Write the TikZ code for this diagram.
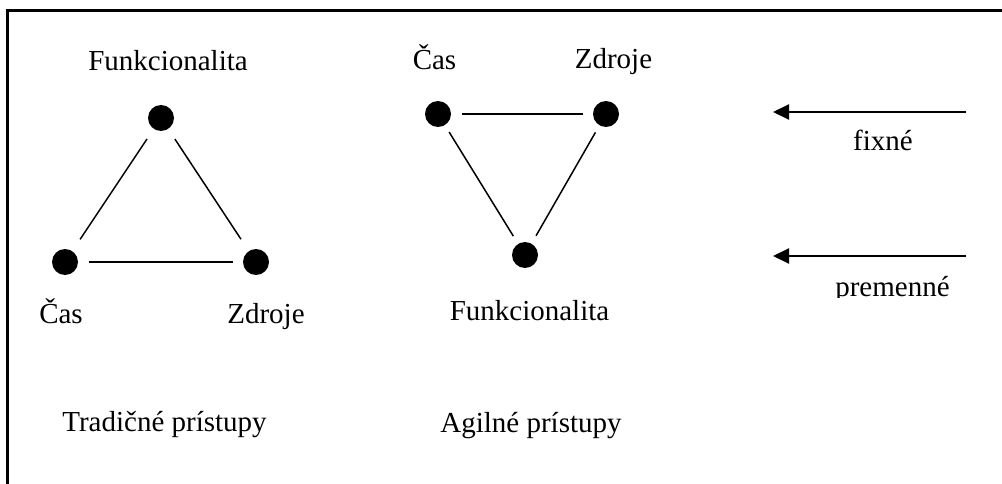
\documentclass[tikz,border=0pt]{standalone}
\usepackage{fontspec}
\setmainfont{Liberation Serif}
\usetikzlibrary{arrows.meta}
\begin{document}
\begin{tikzpicture}[x=1pt,y=-1pt,
  dot/.style={circle,fill=black,draw=none,minimum size=26pt,inner sep=0pt},
  lbl/.style={anchor=base,inner sep=0pt,font=\fontsize{29}{34}\selectfont},
  thin edge/.style={line width=1.5pt},
  thick edge/.style={line width=2.6pt},
  arr/.style={line width=2pt,-{Triangle[length=16pt,width=15pt]}}]
\useasboundingbox (0,0) rectangle (1002,484);
\clip (0,0) rectangle (1002,484);
% frame (open to the right and bottom)
\draw[line width=2.6pt] (7.5,600) -- (7.5,10.5) -- (1100,10.5);
% traditional triangle
\node[dot] (tf) at (161,118) {};
\node[dot] (tc) at (65,262) {};
\node[dot] (tz) at (256,262) {};
\draw[thin edge,shorten <=12pt,shorten >=14pt] (tf) -- (tc);
\draw[thin edge,shorten <=12pt,shorten >=14pt] (tf) -- (tz);
\draw[thick edge,shorten <=11pt,shorten >=10pt] (tc) -- (tz);
\node[lbl] (tfl) at (168,71) {Funkcionalita};
\node[lbl] (tcl) at (61,323) {Čas};
\node[lbl] (tzl) at (266,323) {Zdroje};
\node[lbl] (tt) at (164.5,431) {Tradičné prístupy};
% agile triangle
\node[dot] (ac) at (438,114) {};
\node[dot] (az) at (606,114) {};
\node[dot] (af) at (525,255) {};
\draw[thick edge,shorten <=11pt,shorten >=10pt] (ac) -- (az);
\draw[thin edge,shorten <=8pt,shorten >=9pt] (ac) -- (af);
\draw[thin edge,shorten <=8pt,shorten >=9pt] (az) -- (af);
\node[lbl] (acl) at (434.5,70) {Čas};
\node[lbl] (azl) at (613.5,69) {Zdroje};
\node[lbl] (afl) at (529.5,320) {Funkcionalita};
\node[lbl] (at) at (531,432) {Agilné prístupy};
% legend arrows
\coordinate (fixS) at (966,112);
\coordinate (fixE) at (773,112);
\draw[arr] (fixS) -- (fixE);
\node[lbl] (fix) at (883,151) {fixné};
\coordinate (varS) at (966,256);
\coordinate (varE) at (773,256);
\draw[arr] (varS) -- (varE);
\begin{scope}
\clip (800,250) rectangle (1002,297);
\node[lbl] (var) at (892.5,296) {premenné};
\end{scope}
\end{tikzpicture}
\end{document}
